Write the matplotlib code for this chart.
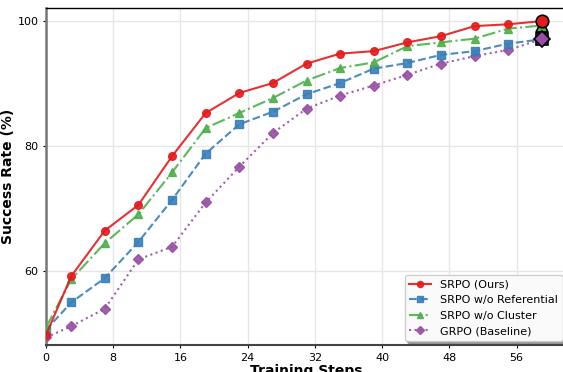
import matplotlib.pyplot as plt

# Data
steps = [0, 3, 7, 11, 15, 19, 23, 27, 31, 35, 39, 43, 47, 51, 55, 59]

srpo = [49.8, 59.2, 66.5, 70.6, 78.4, 85.3, 88.5, 90.1, 93.2, 94.8, 95.2, 96.6, 97.6, 99.2, 99.5, 100.0]
no_ref = [50.6, 55.0, 58.9, 64.7, 71.4, 78.8, 83.5, 85.5, 88.3, 90.1, 92.4, 93.3, 94.6, 95.2, 96.4, 97.1]
no_cluster = [51.0, 58.7, 64.5, 69.1, 75.8, 82.9, 85.3, 87.7, 90.5, 92.5, 93.4, 96.0, 96.6, 97.2, 98.8, 99.3]
grpo = [49.4, 51.2, 54.0, 61.9, 63.9, 71.0, 76.7, 82.1, 86.0, 88.1, 89.7, 91.4, 93.2, 94.4, 95.4, 97.1]

names = ["SRPO (Ours)", "SRPO w/o Referential", "SRPO w/o Cluster", "GRPO (Baseline)"]
series = [srpo, no_ref, no_cluster, grpo]
colors = ["#e41a1c", "#377eb8", "#4daf4a", "#984ea3"]
markers = ["o", "s", "^", "D"]
styles = ["-", "--", "-.", ":"]
xticks = [0, 8, 16, 24, 32, 40, 48, 56]
yticks = [60, 80, 100]

fig = plt.figure(figsize=(5.63, 3.72), dpi=100)
ax = fig.add_axes([46 / 563, 27 / 372, 521 / 563, 337 / 372])

zs = [5, 3, 4, 2]
for vals, name, c, m, ls, z in zip(series, names, colors, markers, styles, zs):
    ax.plot(steps, vals, color=c, marker=m, linestyle=ls, linewidth=1.5,
            markersize=5.5 if m != "D" else 5, alpha=0.9, label=name, zorder=z)

# highlight final points
fz = [9, 7, 8, 8.5]
for vals, c, m, z in zip(series, colors, markers, fz):
    ax.plot(steps[-1], vals[-1], marker=m, color=c, markersize=9 if m != "D" else 8.5,
            markeredgecolor="black", markeredgewidth=1.2, linestyle="none", zorder=z)

ax.set_xlim(0, 62)
ax.set_ylim(48.2, 102.1)
ax.set_xticks(xticks)
ax.set_yticks(yticks)
ax.tick_params(labelsize=8, length=2, width=0.8)
ax.grid(True, color="#e6e6e6", linewidth=1.0)
ax.set_axisbelow(True)

ax.set_xlabel("Training Steps", fontsize=10, fontweight="bold", labelpad=1)
ax.set_ylabel("Success Rate (%)", fontsize=10, fontweight="bold", labelpad=2)

ax.spines["left"].set_color("#777777")
ax.spines["left"].set_linewidth(1.8)
ax.spines["bottom"].set_color("#444444")
ax.spines["bottom"].set_linewidth(1.5)
ax.spines["top"].set_linewidth(1.0)

leg = ax.legend(loc="lower right", fontsize=8, shadow=True, framealpha=0.95,
                markerscale=0.8, handlelength=2.0, handletextpad=0.8,
                borderaxespad=0.4)
leg.get_frame().set_edgecolor("#cccccc")

fig.savefig("out.png", dpi=100)
